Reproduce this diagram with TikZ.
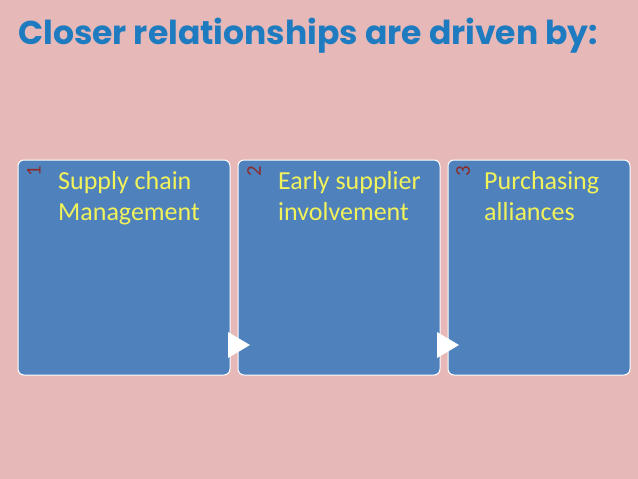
\documentclass[tikz,border=0pt]{standalone}
\usepackage{fontspec}
\setmainfont{Carlito}
\newfontfamily\titlefont{Poppins}
\definecolor{bg}{HTML}{E6B9B8}
\definecolor{boxc}{HTML}{4F81BD}
\definecolor{ttl}{HTML}{1F7BC0}
\definecolor{txt}{HTML}{F2F25A}
\definecolor{num}{HTML}{8B2C2C}
\tikzset{panel/.style={draw=white,line width=1pt,fill=boxc,rounded corners=6pt},
 lbl/.style={anchor=north west,align=left,text=txt,font=\fontsize{26}{31}\selectfont,inner sep=0pt},
 nr/.style={rotate=90,anchor=north east,text=num,font=\fontsize{21}{21}\selectfont,inner sep=0pt},
 tri/.style={fill=white}}
\begin{document}
\begin{tikzpicture}[x=1pt,y=-1pt]
\fill[bg] (0,0) rectangle (638,479);
\useasboundingbox (0,0) rectangle (638,479);
\node[anchor=west,text=ttl,font=\titlefont\bfseries\fontsize{33}{36}\selectfont,inner sep=0pt] (title) at (18,36) {Closer relationships are driven by:};
\draw[panel] (18,160) rectangle (230,375);
\draw[panel] (238,160) rectangle (440,375);
\draw[panel] (448,160) rectangle (630,375);
\node[nr] (n1) at (27,166) {1};
\node[nr] (n2) at (247,166) {2};
\node[nr] (n3) at (456,166) {3};
\node[lbl] (t1) at (58,171) {Supply chain\\Management};
\node[lbl] (t2) at (278,171) {Early supplier\\involvement};
\node[lbl] (t3) at (484,171) {Purchasing\\alliances};
\fill[tri] (228,332) -- (250,345) -- (228,358) -- cycle;
\fill[tri] (437,332) -- (459,345) -- (437,358) -- cycle;
\end{tikzpicture}
\end{document}
